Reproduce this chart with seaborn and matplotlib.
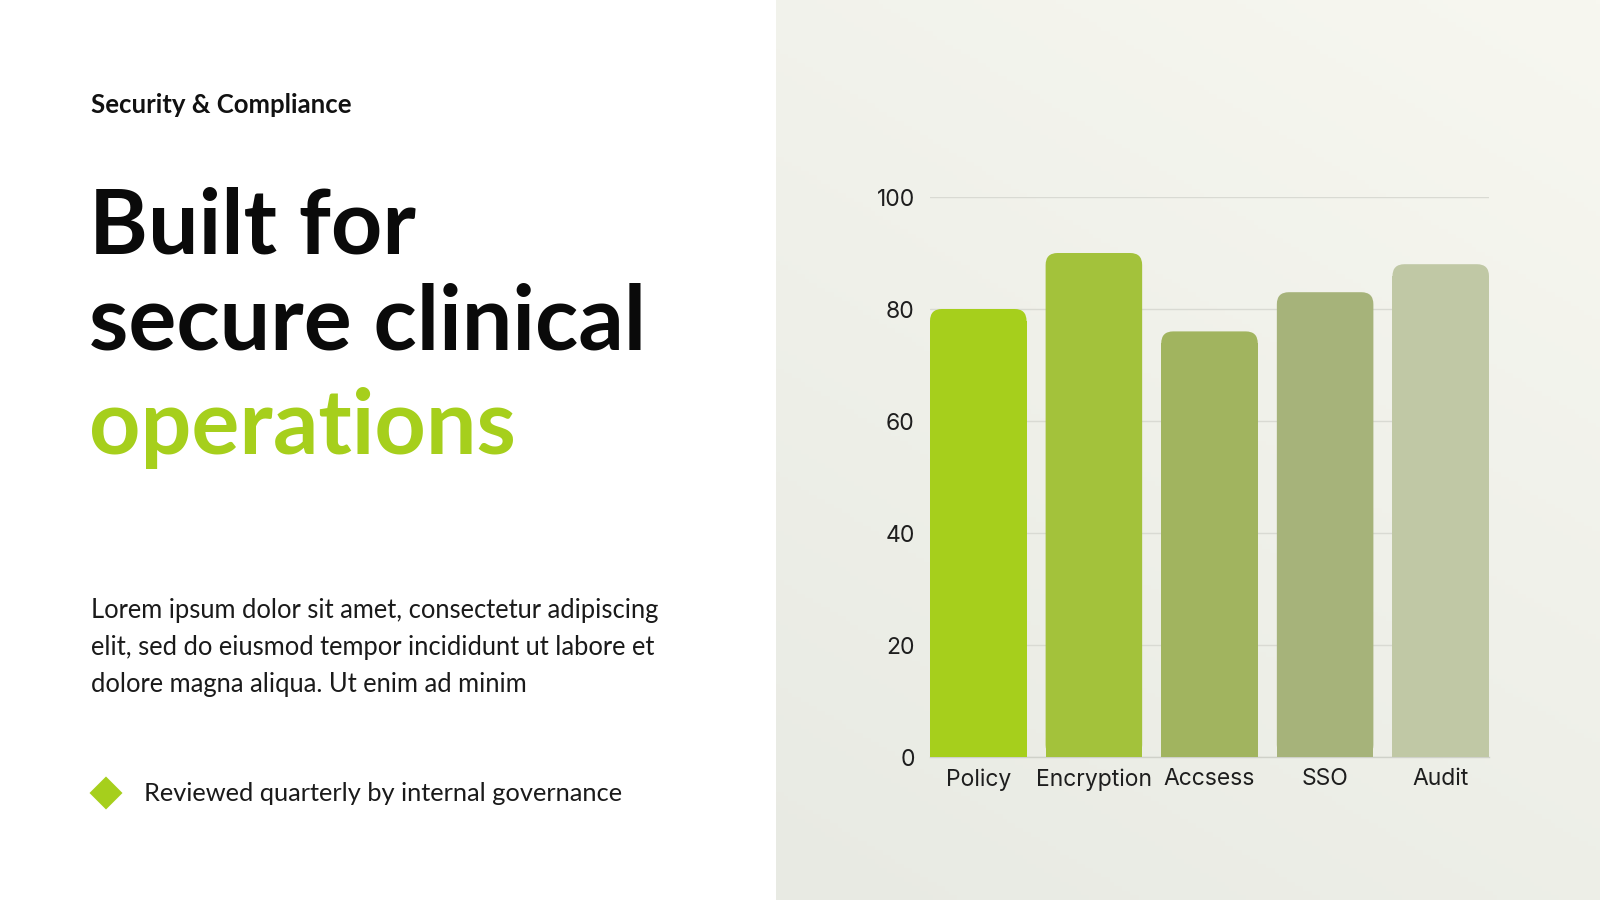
import numpy as np
import matplotlib
matplotlib.use("Agg")
import matplotlib.pyplot as plt
import seaborn as sns
from matplotlib.patches import FancyBboxPatch, Rectangle, Polygon

# ---- data ----
categories = ["Policy", "Encryption", "Accsess", "SSO", "Audit"]
values = [80, 90, 76, 83, 88]
bar_colors = ["#a6cf1c", "#a3c23b", "#a1b45f", "#a6b37a", "#c0c8a5"]
y_ticks = [0, 20, 40, 60, 80, 100]

eyebrow = "Security & Compliance"
title_lines = ["Built for", "secure clinical"]
title_accent = "operations"
body_lines = ["Lorem ipsum dolor sit amet, consectetur adipiscing",
              "elit, sed do eiusmod tempor incididunt ut labore et",
              "dolore magna aliqua. Ut enim ad minim"]
bullet_text = "Reviewed quarterly by internal governance"

W, H = 1600, 900
sns.set_theme(style="white")
plt.rcParams['font.family'] = ['Lato', 'DejaVu Sans']

fig = plt.figure(figsize=(W / 100, H / 100), dpi=100)
fig.patch.set_facecolor("white")

def fx(px):
    return px / W

def fy(py):
    return 1 - py / H

# ---- right panel gradient ----
panel_x = 776
bg = fig.add_axes([fx(panel_x), 0, 1 - fx(panel_x), 1], zorder=0)
gx = np.linspace(0, 1, 200)
gy = np.linspace(0, 1, 200)
GX, GY = np.meshgrid(gx, gy)
t = np.clip(0.65 * GY + 0.35 * (1 - GX), 0, 1)  # 0 = top-right, 1 = bottom-left
c0 = np.array([0xf7, 0xf7, 0xf0]) / 255
c1 = np.array([0xe8, 0xea, 0xe3]) / 255
img = c0[None, None, :] * (1 - t[..., None]) + c1[None, None, :] * t[..., None]
bg.imshow(img, aspect="auto", extent=[0, 1, 1, 0])
bg.set_axis_off()

# ---- chart ----
ax_l, ax_r, ax_t, ax_b = 930, 1489, 197, 757
ax = fig.add_axes([fx(ax_l), fy(ax_b), fx(ax_r - ax_l), (ax_b - ax_t) / H], zorder=2)
ax.set_facecolor("none")
bw = 0.835
sns.barplot(x=categories, y=values, hue=categories, palette=bar_colors,
            width=bw, legend=False, ax=ax, saturation=1)
ax.set_xlim(-bw / 2, len(categories) - 1 + bw / 2)
ax.set_ylim(0, 100)
ax.set_yticks(y_ticks)
ax.yaxis.grid(True, color="#d9dad3", linewidth=1.0)
ax.xaxis.grid(False)
ax.set_axisbelow(True)
for s in ["top", "right", "left"]:
    ax.spines[s].set_visible(False)
ax.spines["bottom"].set_color("#cfd1c9")
ax.spines["bottom"].set_linewidth(1.0)
ax.tick_params(axis="y", length=0, pad=11, labelsize=16.5, labelcolor="#1e1e1e")
ax.tick_params(axis="x", length=0, pad=8, labelsize=16.5, labelcolor="#1e1e1e")
for lab in ax.get_xticklabels() + ax.get_yticklabels():
    lab.set_fontfamily(["Inter", "DejaVu Sans"])
ax.set_xlabel("")
ax.set_ylabel("")

# rounded top corners
fig.canvas.draw()
p0 = ax.transData.transform((0, 0))
p1 = ax.transData.transform((1, 1))
px_per_x = p1[0] - p0[0]
px_per_y = p1[1] - p0[1]
radius_px = 12
rx = radius_px / px_per_x
ry = radius_px / px_per_y
aspect = ry / rx
for patch in list(ax.patches):
    x0, w, h = patch.get_x(), patch.get_width(), patch.get_height()
    col = patch.get_facecolor()
    patch.remove()
    ax.add_patch(FancyBboxPatch((x0, 0), w, h,
                                boxstyle=f"round,pad=0,rounding_size={rx}",
                                mutation_aspect=aspect, facecolor=col,
                                edgecolor="none", zorder=3))
    ax.add_patch(Rectangle((x0, 0), w, h - ry, facecolor=col,
                           edgecolor="none", zorder=3))

# ---- left text ----
fig.text(fx(91), fy(113), eyebrow, fontsize=18.5, fontweight="bold",
         color="#111111", va="baseline", ha="left")
title_baselines = [253, 350]
for line, yb in zip(title_lines, title_baselines):
    fig.text(fx(89), fy(yb), line, fontsize=64.5, fontweight="bold",
             color="#0a0a0a", va="baseline", ha="left")
fig.text(fx(89), fy(454), title_accent, fontsize=64.5, fontweight="bold",
         color="#a6cf1c", va="baseline", ha="left")

for i, line in enumerate(body_lines):
    fig.text(fx(91), fy(618 + i * 37), line, fontsize=18.4,
             color="#1a1a1a", va="baseline", ha="left")

# bullet diamond
ov = fig.add_axes([0, 0, 1, 1], zorder=1)
ov.set_xlim(0, W)
ov.set_ylim(H, 0)
ov.set_axis_off()
cx, cy, r = 106, 793, 16.5
ov.add_patch(Polygon([(cx, cy - r), (cx + r, cy), (cx, cy + r), (cx - r, cy)],
                     closed=True, facecolor="#a6cf1c", edgecolor="none"))
fig.text(fx(144), fy(801), bullet_text, fontsize=18.3, color="#1a1a1a",
         va="baseline", ha="left")

fig.savefig("out.png", dpi=100, facecolor=fig.get_facecolor())
